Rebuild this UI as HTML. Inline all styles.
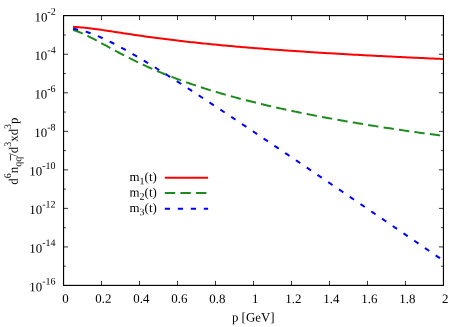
<!DOCTYPE html>
<html><head><meta charset="utf-8"><title>plot</title>
<style>
html,body{margin:0;padding:0;background:#fff;}
body{width:467px;height:327px;overflow:hidden;}
svg{display:block;}
text{font-family:"Liberation Serif",serif;font-size:12.9px;fill:#000;font-kerning:none;}
.sup{font-size:10px;}
.sub{font-size:10px;}
</style></head><body>
<svg width="467" height="327" viewBox="0 0 467 327">
<rect x="0" y="0" width="467" height="327" fill="#fff"/>
<path d="M73.00,26.84 L75.00,26.95 L77.01,27.09 L79.01,27.24 L81.01,27.41 L83.01,27.60 L85.02,27.80 L87.02,28.02 L89.02,28.25 L91.02,28.49 L93.03,28.75 L95.03,29.01 L97.03,29.28 L99.04,29.55 L101.04,29.84 L103.04,30.13 L105.04,30.42 L107.05,30.72 L109.05,31.02 L111.05,31.32 L113.05,31.62 L115.06,31.93 L117.06,32.23 L119.06,32.54 L121.06,32.84 L123.07,33.15 L125.07,33.45 L127.07,33.75 L129.08,34.06 L131.08,34.35 L133.08,34.65 L135.08,34.95 L137.09,35.24 L139.09,35.53 L141.09,35.82 L143.09,36.11 L145.10,36.39 L147.10,36.67 L149.10,36.95 L151.11,37.22 L153.11,37.49 L155.11,37.76 L157.11,38.03 L159.12,38.29 L161.12,38.56 L163.12,38.81 L165.12,39.07 L167.13,39.32 L169.13,39.57 L171.13,39.82 L173.14,40.06 L175.14,40.30 L177.14,40.54 L179.14,40.78 L181.15,41.01 L183.15,41.24 L185.15,41.47 L187.15,41.70 L189.16,41.92 L191.16,42.14 L193.16,42.36 L195.16,42.58 L197.17,42.79 L199.17,43.01 L201.17,43.22 L203.18,43.42 L205.18,43.63 L207.18,43.83 L209.18,44.03 L211.19,44.23 L213.19,44.43 L215.19,44.62 L217.19,44.82 L219.20,45.01 L221.20,45.20 L223.20,45.38 L225.21,45.57 L227.21,45.75 L229.21,45.93 L231.21,46.11 L233.22,46.29 L235.22,46.47 L237.22,46.64 L239.22,46.82 L241.23,46.99 L243.23,47.16 L245.23,47.33 L247.24,47.49 L249.24,47.66 L251.24,47.82 L253.24,47.98 L255.25,48.15 L257.25,48.30 L259.25,48.46 L261.25,48.62 L263.26,48.77 L265.26,48.93 L267.26,49.08 L269.26,49.23 L271.27,49.38 L273.27,49.53 L275.27,49.68 L277.28,49.83 L279.28,49.97 L281.28,50.11 L283.28,50.26 L285.29,50.40 L287.29,50.54 L289.29,50.68 L291.29,50.82 L293.30,50.95 L295.30,51.09 L297.30,51.23 L299.31,51.36 L301.31,51.49 L303.31,51.62 L305.31,51.76 L307.32,51.89 L309.32,52.01 L311.32,52.14 L313.32,52.27 L315.33,52.40 L317.33,52.52 L319.33,52.65 L321.34,52.77 L323.34,52.89 L325.34,53.01 L327.34,53.13 L329.35,53.25 L331.35,53.37 L333.35,53.49 L335.35,53.61 L337.36,53.73 L339.36,53.84 L341.36,53.96 L343.36,54.07 L345.37,54.19 L347.37,54.30 L349.37,54.41 L351.38,54.52 L353.38,54.63 L355.38,54.74 L357.38,54.85 L359.39,54.96 L361.39,55.07 L363.39,55.18 L365.39,55.28 L367.40,55.39 L369.40,55.49 L371.40,55.60 L373.41,55.70 L375.41,55.81 L377.41,55.91 L379.41,56.01 L381.42,56.11 L383.42,56.21 L385.42,56.31 L387.42,56.41 L389.43,56.51 L391.43,56.61 L393.43,56.71 L395.44,56.81 L397.44,56.90 L399.44,57.00 L401.44,57.09 L403.45,57.19 L405.45,57.28 L407.45,57.38 L409.45,57.47 L411.46,57.57 L413.46,57.66 L415.46,57.75 L417.46,57.84 L419.47,57.93 L421.47,58.02 L423.47,58.11 L425.48,58.20 L427.48,58.29 L429.48,58.38 L431.48,58.47 L433.49,58.56 L435.49,58.64 L437.49,58.73 L439.49,58.82 L441.50,58.90 L443.50,58.99" fill="none" stroke="#ff0000" stroke-width="2"/>
<path d="M73.00,29.93 L75.00,30.54 L77.01,31.23 L79.01,31.99 L81.01,32.81 L83.01,33.68 L85.02,34.60 L87.02,35.56 L89.02,36.55 L91.02,37.57 L93.03,38.62 L95.03,39.68 L97.03,40.76 L99.04,41.84 L101.04,42.94 L103.04,44.04 L105.04,45.14 L107.05,46.24 L109.05,47.34 L111.05,48.43 L113.05,49.52 L115.06,50.61 L117.06,51.69 L119.06,52.75 L121.06,53.81 L123.07,54.86 L125.07,55.90 L127.07,56.93 L129.08,57.95 L131.08,58.95 L133.08,59.95 L135.08,60.93 L137.09,61.90 L139.09,62.86 L141.09,63.80 L143.09,64.74 L145.10,65.66 L147.10,66.58 L149.10,67.48 L151.11,68.36 L153.11,69.24 L155.11,70.11 L157.11,70.96 L159.12,71.81 L161.12,72.64 L163.12,73.46 L165.12,74.27 L167.13,75.08 L169.13,75.87 L171.13,76.65 L173.14,77.42 L175.14,78.19 L177.14,78.94 L179.14,79.68 L181.15,80.42 L183.15,81.14 L185.15,81.86 L187.15,82.57 L189.16,83.27 L191.16,83.96 L193.16,84.64 L195.16,85.32 L197.17,85.99 L199.17,86.65 L201.17,87.30 L203.18,87.95 L205.18,88.59 L207.18,89.22 L209.18,89.84 L211.19,90.46 L213.19,91.07 L215.19,91.68 L217.19,92.27 L219.20,92.87 L221.20,93.45 L223.20,94.03 L225.21,94.60 L227.21,95.17 L229.21,95.73 L231.21,96.29 L233.22,96.84 L235.22,97.39 L237.22,97.93 L239.22,98.46 L241.23,98.99 L243.23,99.51 L245.23,100.03 L247.24,100.55 L249.24,101.06 L251.24,101.56 L253.24,102.06 L255.25,102.56 L257.25,103.05 L259.25,103.54 L261.25,104.02 L263.26,104.50 L265.26,104.97 L267.26,105.44 L269.26,105.91 L271.27,106.37 L273.27,106.83 L275.27,107.28 L277.28,107.73 L279.28,108.18 L281.28,108.62 L283.28,109.06 L285.29,109.50 L287.29,109.93 L289.29,110.36 L291.29,110.78 L293.30,111.20 L295.30,111.62 L297.30,112.04 L299.31,112.45 L301.31,112.86 L303.31,113.26 L305.31,113.67 L307.32,114.07 L309.32,114.46 L311.32,114.86 L313.32,115.25 L315.33,115.64 L317.33,116.02 L319.33,116.40 L321.34,116.78 L323.34,117.16 L325.34,117.53 L327.34,117.91 L329.35,118.28 L331.35,118.64 L333.35,119.01 L335.35,119.37 L337.36,119.73 L339.36,120.08 L341.36,120.44 L343.36,120.79 L345.37,121.14 L347.37,121.48 L349.37,121.83 L351.38,122.17 L353.38,122.51 L355.38,122.85 L357.38,123.19 L359.39,123.52 L361.39,123.85 L363.39,124.18 L365.39,124.51 L367.40,124.83 L369.40,125.16 L371.40,125.48 L373.41,125.80 L375.41,126.12 L377.41,126.43 L379.41,126.75 L381.42,127.06 L383.42,127.37 L385.42,127.68 L387.42,127.98 L389.43,128.29 L391.43,128.59 L393.43,128.89 L395.44,129.19 L397.44,129.49 L399.44,129.78 L401.44,130.08 L403.45,130.37 L405.45,130.66 L407.45,130.95 L409.45,131.24 L411.46,131.53 L413.46,131.81 L415.46,132.09 L417.46,132.37 L419.47,132.65 L421.47,132.93 L423.47,133.21 L425.48,133.49 L427.48,133.76 L429.48,134.03 L431.48,134.30 L433.49,134.57 L435.49,134.84 L437.49,135.11 L439.49,135.37 L441.50,135.64 L443.50,135.90" fill="none" stroke="#1f8b1f" stroke-width="2" stroke-dasharray="10.4 5.2"/>
<path d="M73.00,28.77 L75.00,29.09 L77.01,29.46 L79.01,29.88 L81.01,30.36 L83.01,30.89 L85.02,31.46 L87.02,32.08 L89.02,32.74 L91.02,33.45 L93.03,34.19 L95.03,34.97 L97.03,35.78 L99.04,36.62 L101.04,37.50 L103.04,38.40 L105.04,39.32 L107.05,40.27 L109.05,41.25 L111.05,42.24 L113.05,43.26 L115.06,44.29 L117.06,45.34 L119.06,46.41 L121.06,47.49 L123.07,48.59 L125.07,49.70 L127.07,50.82 L129.08,51.95 L131.08,53.10 L133.08,54.26 L135.08,55.42 L137.09,56.60 L139.09,57.78 L141.09,58.97 L143.09,60.17 L145.10,61.37 L147.10,62.59 L149.10,63.81 L151.11,65.03 L153.11,66.26 L155.11,67.50 L157.11,68.74 L159.12,69.99 L161.12,71.24 L163.12,72.50 L165.12,73.76 L167.13,75.02 L169.13,76.29 L171.13,77.56 L173.14,78.83 L175.14,80.11 L177.14,81.39 L179.14,82.68 L181.15,83.97 L183.15,85.26 L185.15,86.55 L187.15,87.84 L189.16,89.14 L191.16,90.44 L193.16,91.74 L195.16,93.05 L197.17,94.35 L199.17,95.66 L201.17,96.97 L203.18,98.29 L205.18,99.60 L207.18,100.91 L209.18,102.23 L211.19,103.55 L213.19,104.87 L215.19,106.19 L217.19,107.52 L219.20,108.84 L221.20,110.16 L223.20,111.49 L225.21,112.82 L227.21,114.15 L229.21,115.48 L231.21,116.81 L233.22,118.14 L235.22,119.48 L237.22,120.81 L239.22,122.15 L241.23,123.48 L243.23,124.82 L245.23,126.16 L247.24,127.50 L249.24,128.84 L251.24,130.18 L253.24,131.52 L255.25,132.86 L257.25,134.20 L259.25,135.55 L261.25,136.89 L263.26,138.23 L265.26,139.58 L267.26,140.93 L269.26,142.27 L271.27,143.62 L273.27,144.97 L275.27,146.32 L277.28,147.66 L279.28,149.01 L281.28,150.36 L283.28,151.71 L285.29,153.06 L287.29,154.42 L289.29,155.77 L291.29,157.12 L293.30,158.47 L295.30,159.83 L297.30,161.18 L299.31,162.53 L301.31,163.89 L303.31,165.24 L305.31,166.60 L307.32,167.95 L309.32,169.31 L311.32,170.66 L313.32,172.02 L315.33,173.38 L317.33,174.74 L319.33,176.09 L321.34,177.45 L323.34,178.81 L325.34,180.17 L327.34,181.53 L329.35,182.88 L331.35,184.24 L333.35,185.60 L335.35,186.96 L337.36,188.32 L339.36,189.68 L341.36,191.04 L343.36,192.40 L345.37,193.77 L347.37,195.13 L349.37,196.49 L351.38,197.85 L353.38,199.21 L355.38,200.57 L357.38,201.94 L359.39,203.30 L361.39,204.66 L363.39,206.03 L365.39,207.39 L367.40,208.75 L369.40,210.12 L371.40,211.48 L373.41,212.84 L375.41,214.21 L377.41,215.57 L379.41,216.94 L381.42,218.30 L383.42,219.67 L385.42,221.03 L387.42,222.40 L389.43,223.76 L391.43,225.13 L393.43,226.49 L395.44,227.86 L397.44,229.22 L399.44,230.59 L401.44,231.96 L403.45,233.32 L405.45,234.69 L407.45,236.05 L409.45,237.42 L411.46,238.79 L413.46,240.16 L415.46,241.52 L417.46,242.89 L419.47,244.26 L421.47,245.62 L423.47,246.99 L425.48,248.36 L427.48,249.73 L429.48,251.09 L431.48,252.46 L433.49,253.83 L435.49,255.20 L437.49,256.57 L439.49,257.94 L441.50,259.30 L443.50,260.67" fill="none" stroke="#0000ff" stroke-width="2" stroke-dasharray="5.2 7.8"/>
<rect x="63.55" y="15.6" width="379.9" height="269.79999999999995" fill="none" stroke="#000" stroke-width="1.15"/>
<path d="M101.54,285.4 v-4.5 M101.54,15.6 v4.5 M139.53,285.4 v-4.5 M139.53,15.6 v4.5 M177.52,285.4 v-4.5 M177.52,15.6 v4.5 M215.51,285.4 v-4.5 M215.51,15.6 v4.5 M253.50,285.4 v-4.5 M253.50,15.6 v4.5 M291.49,285.4 v-4.5 M291.49,15.6 v4.5 M329.48,285.4 v-4.5 M329.48,15.6 v4.5 M367.47,285.4 v-4.5 M367.47,15.6 v4.5 M405.46,285.4 v-4.5 M405.46,15.6 v4.5 M63.55,35.01 h2.3 M443.45,35.01 h-2.3 M63.55,54.28 h4.5 M443.45,54.28 h-4.5 M63.55,73.54 h2.3 M443.45,73.54 h-2.3 M63.55,92.81 h4.5 M443.45,92.81 h-4.5 M63.55,112.07 h2.3 M443.45,112.07 h-2.3 M63.55,131.34 h4.5 M443.45,131.34 h-4.5 M63.55,150.60 h2.3 M443.45,150.60 h-2.3 M63.55,169.86 h4.5 M443.45,169.86 h-4.5 M63.55,189.13 h2.3 M443.45,189.13 h-2.3 M63.55,208.39 h4.5 M443.45,208.39 h-4.5 M63.55,227.66 h2.3 M443.45,227.66 h-2.3 M63.55,246.92 h4.5 M443.45,246.92 h-4.5 M63.55,266.19 h2.3 M443.45,266.19 h-2.3" fill="none" stroke="#000" stroke-width="0.8"/>
<g style="filter:grayscale(1)"><g transform="rotate(0.03 233 163)">
<text x="65.45" y="302.9" text-anchor="middle">0</text>
<text x="103.44" y="302.9" text-anchor="middle">0.2</text>
<text x="141.43" y="302.9" text-anchor="middle">0.4</text>
<text x="179.42" y="302.9" text-anchor="middle">0.6</text>
<text x="217.41" y="302.9" text-anchor="middle">0.8</text>
<text x="255.40" y="302.9" text-anchor="middle">1</text>
<text x="293.39" y="302.9" text-anchor="middle">1.2</text>
<text x="331.38" y="302.9" text-anchor="middle">1.4</text>
<text x="369.37" y="302.9" text-anchor="middle">1.6</text>
<text x="407.36" y="302.9" text-anchor="middle">1.8</text>
<text x="445.35" y="302.9" text-anchor="middle">2</text>
<text x="55.6" y="21.50" text-anchor="end">10<tspan class="sup" dy="-6.6">-2</tspan></text>
<text x="55.6" y="60.04" text-anchor="end">10<tspan class="sup" dy="-6.6">-4</tspan></text>
<text x="55.6" y="98.59" text-anchor="end">10<tspan class="sup" dy="-6.6">-6</tspan></text>
<text x="55.6" y="137.13" text-anchor="end">10<tspan class="sup" dy="-6.6">-8</tspan></text>
<text x="55.6" y="175.67" text-anchor="end">10<tspan class="sup" dy="-6.6">-10</tspan></text>
<text x="55.6" y="214.21" text-anchor="end">10<tspan class="sup" dy="-6.6">-12</tspan></text>
<text x="55.6" y="252.76" text-anchor="end">10<tspan class="sup" dy="-6.6">-14</tspan></text>
<text x="55.6" y="291.30" text-anchor="end">10<tspan class="sup" dy="-6.6">-16</tspan></text>
<text x="253.3" y="321.4" text-anchor="middle">p [GeV]</text>
<text transform="translate(17.8,151.2) rotate(-90)" text-anchor="middle">d<tspan class="sup" dy="-6.8">6</tspan><tspan dy="6.8">n</tspan><tspan class="sub" dy="3.5">qq</tspan><tspan dy="-3.5">/d</tspan><tspan class="sup" dy="-6.8">3</tspan><tspan dy="6.8">xd</tspan><tspan class="sup" dy="-6.8">3</tspan><tspan dy="6.8">p</tspan></text>
<path d="M10.45,154.6 V160.6" stroke="#000" stroke-width="0.8" fill="none"/>
<!-- legend -->
<text x="156.8" y="181.0" text-anchor="end">m<tspan class="sub" dy="3.3">1</tspan><tspan dy="-3.3">(t)</tspan></text>
<text x="156.8" y="196.5" text-anchor="end">m<tspan class="sub" dy="3.3">2</tspan><tspan dy="-3.3">(t)</tspan></text>
<text x="156.8" y="212.0" text-anchor="end">m<tspan class="sub" dy="3.3">3</tspan><tspan dy="-3.3">(t)</tspan></text>
</g></g>
<path d="M164.8,177.75 H208.1" fill="none" stroke="#ff0000" stroke-width="2"/>
<path d="M164.8,193.1 H208.1" fill="none" stroke="#1f8b1f" stroke-width="2" stroke-dasharray="10.4 5.2"/>
<path d="M164.8,208.7 H208.1" fill="none" stroke="#0000ff" stroke-width="2" stroke-dasharray="5.2 7.8"/>
</svg>
</body></html>
